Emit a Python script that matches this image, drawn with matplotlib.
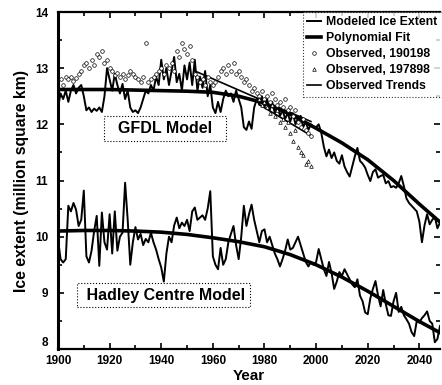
import matplotlib
matplotlib.use("Agg")
import matplotlib.pyplot as plt
from matplotlib.ticker import MultipleLocator

plt.rcParams['font.family'] = ['Liberation Sans', 'DejaVu Sans']
plt.rcParams['font.weight'] = 'bold'

# ---------------- data ----------------
years = list(range(1900, 2049))

gfdl_model = [
    12.3, 12.55, 12.45, 12.6, 12.4, 12.6, 12.7, 12.55, 12.65, 12.7,
    12.5, 12.25, 12.3, 12.22, 12.28, 12.24, 12.3, 12.22, 12.5, 13.0,
    12.8, 12.6, 12.9, 12.7, 12.55, 12.72, 12.45, 12.6, 12.3, 12.22,
    12.25, 12.2, 12.3, 12.45, 12.6, 12.55, 12.7, 12.6, 12.85, 12.7,
    13.15, 12.8, 13.0, 12.7, 12.95, 13.2, 12.75, 12.9, 12.6, 13.05,
    12.8, 13.1, 12.7, 13.15, 12.6, 12.85, 12.65, 12.95, 12.5, 12.7,
    12.3, 12.2, 12.4, 12.22, 12.45, 12.6, 12.5, 12.55, 12.4, 12.6,
    12.45, 12.3, 11.95, 11.9, 12.05, 11.92, 12.3, 12.45, 12.35, 12.5,
    12.3, 12.45, 12.25, 12.4, 12.2, 12.35, 12.15, 12.25, 12.1, 12.2,
    12.05, 12.2, 12.0, 12.1, 12.15, 11.95, 12.05, 11.9, 12.0, 11.95,
    11.95, 12.0, 11.85, 11.6, 11.43, 11.55, 11.4, 11.5, 11.35, 11.3,
    11.45, 11.25, 11.15, 11.07, 11.25, 11.43, 11.58, 11.35, 11.3, 11.23,
    11.1, 10.99, 11.15, 11.2, 11.05, 11.08, 11.1, 10.95, 10.99, 10.88,
    10.9, 10.87, 10.95, 11.08, 10.9, 10.68, 10.6, 10.55, 10.5, 10.45,
    10.27, 9.9, 10.2, 10.4, 10.22, 10.3, 10.35, 10.15, 10.25,
]

hadley_model = [
    9.95, 9.6, 9.54, 9.6, 10.55, 10.45, 10.6, 10.48, 10.19, 10.3,
    10.82, 9.65, 9.54, 9.75, 10.1, 10.37, 9.48, 10.43, 9.9, 9.77,
    10.4, 9.7, 10.45, 9.75, 10.0, 10.07, 10.96, 10.3, 9.5, 9.9,
    10.17, 9.95, 10.05, 9.85, 9.96, 9.9, 10.07, 9.9, 9.77, 9.6,
    9.45, 9.2, 9.7, 10.0, 9.9, 10.2, 10.34, 10.15, 10.25, 10.19,
    10.3, 10.1, 10.45, 10.52, 10.3, 10.34, 10.38, 10.3, 10.5, 10.81,
    9.65, 9.5, 9.42, 9.8, 9.5, 9.6, 9.9, 10.05, 10.19, 9.85,
    9.6, 10.0, 10.55, 10.19, 10.4, 10.57, 10.3, 10.1, 9.9, 10.1,
    10.13, 9.9, 10.0, 9.85, 9.7, 9.6, 9.47, 9.6, 9.75, 9.95,
    9.77, 9.8, 9.9, 10.0, 9.85, 9.7, 9.55, 9.47, 9.55, 9.5,
    9.55, 9.78, 9.6, 9.42, 9.3, 9.55, 9.35, 9.07, 9.2, 9.37,
    9.3, 9.42, 9.33, 9.24, 9.15, 9.1, 9.24, 8.95, 8.85, 8.65,
    8.62, 8.9, 9.07, 9.21, 8.95, 8.76, 9.05, 8.8, 8.6, 8.59,
    8.85, 9.0, 8.66, 8.75, 8.6, 8.53, 8.45, 8.3, 8.23, 8.5,
    8.47, 8.55, 8.6, 8.67, 8.5, 8.45, 8.12, 8.18, 8.41,
]

fit_years = [1900, 1910, 1920, 1930, 1940, 1950, 1960, 1970, 1980, 1990,
             2000, 2010, 2020, 2030, 2040, 2048]
gfdl_fit = [12.62, 12.62, 12.62, 12.61, 12.6, 12.59, 12.57, 12.5, 12.38, 12.18,
            11.93, 11.67, 11.37, 11.0, 10.58, 10.26]
hadley_fit = [10.1, 10.11, 10.11, 10.1, 10.08, 10.04, 9.98, 9.91, 9.82, 9.68,
              9.5, 9.28, 9.03, 8.76, 8.49, 8.29]

obs_years_a = list(range(1901, 1999))
obs_a = [
    12.8, 12.7, 12.85, 12.8, 12.85, 12.78, 12.82, 12.9, 12.95, 13.05,
    13.1, 13.0, 13.15, 13.05, 13.25, 13.2, 13.3, 13.1, 13.15, 13.0,
    12.95, 12.88, 12.92, 12.85, 12.9, 12.8, 12.88, 12.95, 12.9, 12.85,
    12.8, 12.75, 12.85, 13.45, 12.75, 12.8, 12.85, 12.9, 12.95, 13.0,
    12.9, 13.05, 13.0, 13.1, 12.95, 13.3, 13.2, 13.45, 13.35, 13.25,
    13.4, 13.15, 12.9, 12.85, 12.75, 12.8, 12.7, 12.85, 12.75, 12.7,
    12.75, 12.85, 12.95, 13.0, 12.9, 13.05, 12.95, 13.1, 12.9, 12.95,
    12.85, 12.75, 12.8, 12.7, 12.6, 12.65, 12.55, 12.5, 12.6, 12.45,
    12.5, 12.4, 12.55, 12.45, 12.35, 12.4, 12.3, 12.45, 12.25, 12.3,
    12.15, 12.25, 12.05, 11.95, 12.1, 11.9, 11.85, 11.8,
]

obs_years_b = list(range(1978, 1999))
obs_b = [12.45, 12.35, 12.4, 12.3, 12.2, 12.35, 12.15, 12.25, 12.05, 12.1,
         11.95, 12.05, 11.85, 11.7, 11.9, 11.6, 11.5, 11.45, 11.3, 11.35, 11.25]

trend_a_years = [1953, 1998]
trend_a = [12.95, 12.05]
trend_b_years = [1978, 1998]
trend_b = [12.35, 11.8]

x_ticks = [1900, 1920, 1940, 1960, 1980, 2000, 2020, 2040]
y_ticks = [8, 9, 10, 11, 12, 13, 14]

# ---------------- plot ----------------
fig = plt.figure(figsize=(4.42, 3.85), dpi=100)
ax = fig.add_axes([58 / 442, 36 / 385, 382 / 442, 337 / 385])

ax.plot(years, gfdl_model, color='black', lw=1.4, label='Modeled Ice Extent', zorder=3)
ax.plot(years, hadley_model, color='black', lw=1.4, zorder=3)
ax.plot(fit_years, gfdl_fit, color='black', lw=2.6, label='Polynomial Fit', zorder=4)
ax.plot(fit_years, hadley_fit, color='black', lw=2.6, zorder=4)
ax.plot(obs_years_a, obs_a, ls='none', marker='o', ms=2.6, mfc='white', mec='black',
        mew=0.5, label='Observed, 190198', zorder=5)
ax.plot(obs_years_b, obs_b, ls='none', marker='^', ms=2.6, mfc='white', mec='black',
        mew=0.5, label='Observed, 197898', zorder=5)
ax.plot(trend_a_years, trend_a, color='black', lw=1.2, label='Observed Trends', zorder=4)
ax.plot(trend_b_years, trend_b, color='black', lw=1.2, zorder=4)

ax.set_xlim(1900, 2048)
ax.set_ylim(8, 14)
ax.set_xticks(x_ticks)
ax.set_yticks(y_ticks)
ax.xaxis.set_minor_locator(MultipleLocator(10))
ax.yaxis.set_minor_locator(MultipleLocator(0.5))
ax.tick_params(which='both', direction='in', top=True, right=True, width=1.2,
               labelsize=8.5)
ax.tick_params(axis='x', pad=4)
ax.tick_params(axis='y', pad=7)
ax.tick_params(which='major', length=4)
ax.tick_params(which='minor', length=3)
for lab in ax.get_xticklabels() + ax.get_yticklabels():
    lab.set_fontweight('bold')
# lowest y label sits a little above the axis line, clear of "1900"
ax.get_yticklabels()[0].set_va('bottom')

ax.spines['left'].set_linewidth(2.2)
ax.spines['bottom'].set_linewidth(1.6)
ax.spines['top'].set_linewidth(1.6)
ax.spines['right'].set_visible(False)

ax.set_xlabel('Year', fontsize=11, fontweight='bold', labelpad=2)
ax.set_ylabel('Ice extent (million square km)', fontsize=11.3, fontweight='bold',
              labelpad=4)

leg = ax.legend(loc='upper right', bbox_to_anchor=(1.005, 1.0), borderaxespad=0,
                fontsize=8.8, frameon=True, fancybox=False, numpoints=1,
                handlelength=1.2, handletextpad=0.4, labelspacing=0.33,
                borderpad=0.35)
leg.get_frame().set_edgecolor('black')
leg.get_frame().set_linestyle(':')
leg.get_frame().set_linewidth(0.8)
for t in leg.get_texts():
    t.set_fontweight('bold')

box = dict(boxstyle='square,pad=0.3', fc='white', ec='black', ls=':', lw=0.8)
ax.text(1941.5, 11.93, '  GFDL Model  ', ha='center', va='center', fontsize=11.5,
        fontweight='bold', bbox=box, zorder=6)
ax.text(1941.0, 8.96, ' Hadley Centre Model', ha='center', va='center', fontsize=11.5,
        fontweight='bold', bbox=box, zorder=6)

fig.savefig('out.png', dpi=100)
